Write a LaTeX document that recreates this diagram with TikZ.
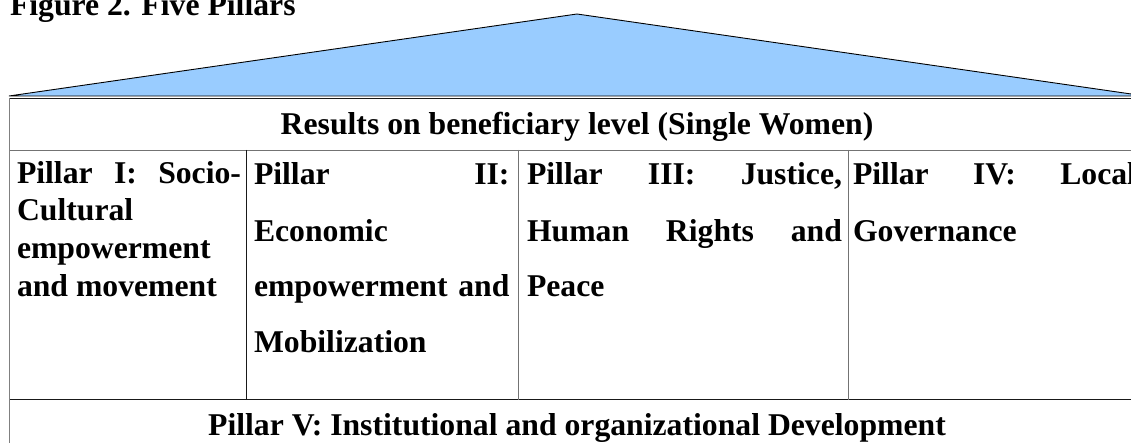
\documentclass[tikz,border=0pt]{standalone}
\usepackage{fontspec}
\setmainfont{Liberation Serif}
\begin{document}
\begin{tikzpicture}[x=1pt,y=-1pt,
  txt/.style={anchor=base west, inner sep=0pt, outer sep=0pt,
    font=\bfseries\fontsize{31.7}{38}\selectfont},
  ctr/.style={txt, anchor=base},
  rule/.style={line width=0.9pt, draw=black!90},
  softrule/.style={line width=0.9pt, draw=black!55}]
\definecolor{roofblue}{HTML}{99CCFF}
\useasboundingbox (0,0) rectangle (1131,443);
\clip (0,0) rectangle (1131,443);

% title
\node[txt] (title) at (10,16) {Figure 2. Five Pillars};

% roof
\coordinate (roofL) at (9,96);
\coordinate (roofT) at (577,14);
\coordinate (roofR) at (1145,96);
\filldraw[fill=roofblue, draw=black, line width=0.9pt, line join=miter]
  (roofL) -- (roofT) -- (roofR) -- cycle;

% table frame
\coordinate (tl) at (9,98.5);
\coordinate (tr) at (1145,98.5);
\draw[rule] (tl) -- (tr);
\draw[softrule] (9,150) -- (1145,150);
\draw[rule] (9,399.5) -- (1145,399.5);
\draw[line width=1.6pt, draw=black!50] (9.3,98) -- (9.3,443);
\draw[rule] (246,150) -- (246,399.5);
\draw[softrule] (518.3,150) -- (518.3,399.5);
\draw[softrule] (848,150) -- (848,399.5);

% header row
\node[ctr] (head) at (577,135) {Results on beneficiary level (Single Women)};

% column 1
\node[txt] (c1a) at (17,184) {\hbox to 224pt{Pillar\hfill I:\hfill Socio-}};
\node[txt] (c1b) at (17,221) {Cultural};
\node[txt] (c1c) at (17,258.5) {empowerment};
\node[txt] (c1d) at (17,296.5) {and movement};

% column 2
\node[txt] (c2a) at (254,185) {\hbox to 255.5pt{Pillar\hfill II:}};
\node[txt] (c2b) at (254,241.5) {Economic};
\node[txt] (c2c) at (254,297) {\hbox to 255.5pt{empowerment\hfill and}};
\node[txt] (c2d) at (254,352) {Mobilization};

% column 3
\node[txt] (c3a) at (527,185) {\hbox to 315pt{Pillar\hfill III:\hfill Justice,}};
\node[txt] (c3b) at (527,241.5) {\hbox to 315pt{Human\hfill Rights\hfill and}};
\node[txt] (c3c) at (527,297) {Peace};

% column 4
\node[txt] (c4a) at (853,185) {\hbox to 283pt{Pillar\hfill IV:\hfill Local}};
\node[txt] (c4b) at (853,241.5) {Governance};

% bottom row
\node[ctr] (base) at (577,435) {Pillar V: Institutional and organizational Development};
\end{tikzpicture}
\end{document}
